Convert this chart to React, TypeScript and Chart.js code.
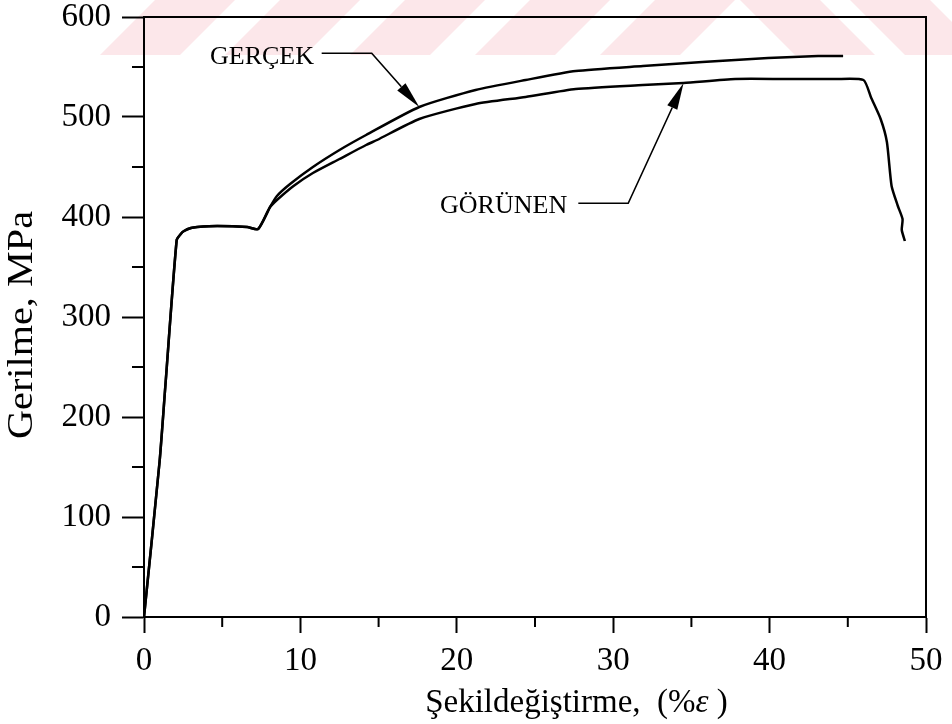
import React, { useEffect, useRef } from "react";
import { Chart, registerables } from "chart.js";

Chart.register(...registerables);

// ---------------- data (strain %, stress MPa) ----------------
const gercekStrain = [0, 1.0, 1.37, 2.09, 2.35, 2.56, 3.0, 3.4, 4.68, 6.6, 7.3, 8.06, 8.5, 9.34, 10.8, 12.5, 14.2, 17.6, 21.2, 24.4, 27.6, 31.9, 35.7, 39.9, 43.1, 44.7];
const gercekStress = [0, 156, 232, 377, 383, 386, 389, 390, 391, 390, 388, 410, 421, 433, 450, 467, 482, 510, 527, 537, 546, 551, 555, 559, 561, 561];

const gorunenStrain = [0, 1.0, 1.37, 2.09, 2.35, 2.56, 3.0, 3.4, 4.68, 6.6, 7.3, 8.06, 8.5, 9.56, 10.8, 12.5, 14.2, 14.9, 17.6, 21.2, 24.4, 27.6, 31.9, 34.5, 37.8, 41.0, 44.2, 46.0, 46.5, 47.1, 47.5, 47.8, 48.2, 48.5, 48.45, 48.65];
const gorunenStress = [0, 156, 232, 377, 383, 386, 389, 390, 391, 390, 388, 410, 417, 431, 444, 458, 472, 477, 498, 513, 520, 528, 532, 534, 538, 538, 538, 537, 519, 498, 475, 431, 411, 398, 387, 376];

const seriesNames = ["GERÇEK", "GÖRÜNEN"];

const xMajorTicks = [0, 10, 20, 30, 40, 50];
const xMinorTicks = [5, 15, 25, 35, 45];
const yMajorTicks = [0, 100, 200, 300, 400, 500, 600];
const yMinorTicks = [50, 150, 250, 350, 450, 550];

const xTitle = ["Şekildeğiştirme,  (%", "ε", " )"];
const yTitle = "Gerilme, MPa";

// annotation anchors in data units
const callouts = [
  { text: seriesNames[0], textAt: { x: 4.22, y: 553 }, from: { x: 11.36, y: 563.7 }, elbow: { x: 14.56, y: 563.7 }, tip: { x: 17.6, y: 510 } },
  { text: seriesNames[1], textAt: { x: 18.93, y: 403.7 }, from: { x: 27.77, y: 413.7 }, elbow: { x: 30.96, y: 413.7 }, tip: { x: 34.5, y: 534 } },
];

const SERIF = '"Liberation Serif", "Times New Roman", Times, serif';

const toPoints = (xs: number[], ys: number[]) => xs.map((x, i) => ({ x, y: ys[i] }));

const watermarkPlugin = {
  id: "scanWatermark",
  beforeDraw(chart: any) {
    const { ctx, width } = chart;
    ctx.save();
    ctx.fillStyle = "#ffffff";
    ctx.fillRect(0, 0, width, chart.height);
    ctx.fillStyle = "#fce7ea";
    const h = 55;
    [100, 225, 350, 475, 600].forEach((bx) => {
      ctx.beginPath();
      ctx.moveTo(bx, h);
      ctx.lineTo(bx + 80, h);
      ctx.lineTo(bx + 135, 0);
      ctx.lineTo(bx + 55, 0);
      ctx.closePath();
      ctx.fill();
    });
    [740, 850].forEach((bx) => {
      ctx.beginPath();
      ctx.moveTo(bx, 0);
      ctx.lineTo(bx + 80, 0);
      ctx.lineTo(bx + 135, h);
      ctx.lineTo(bx + 55, h);
      ctx.closePath();
      ctx.fill();
    });
    ctx.restore();
  },
};

const framePlugin = {
  id: "frameAndTitles",
  afterDraw(chart: any) {
    const { ctx, chartArea: a } = chart;
    const xs = chart.scales.x;
    const ys = chart.scales.y;
    ctx.save();
    ctx.strokeStyle = "#000";
    ctx.lineWidth = 2;
    ctx.beginPath();
    xMinorTicks.forEach((v) => {
      const px = xs.getPixelForValue(v);
      ctx.moveTo(px, a.bottom);
      ctx.lineTo(px, a.bottom + 10);
    });
    yMinorTicks.forEach((v) => {
      const py = ys.getPixelForValue(v);
      ctx.moveTo(a.left, py);
      ctx.lineTo(a.left - 12, py);
    });
    ctx.moveTo(a.left - 1, a.top);
    ctx.lineTo(a.right, a.top);
    ctx.lineTo(a.right, a.bottom);
    ctx.stroke();

    ctx.fillStyle = "#000";

    // x-axis title (with italic epsilon)
    ctx.textBaseline = "alphabetic";
    ctx.textAlign = "left";
    const normal = `33px ${SERIF}`;
    const italic = `italic 33px ${SERIF}`;
    const fonts = [normal, italic, normal];
    const widths = xTitle.map((t, i) => {
      ctx.font = fonts[i];
      return ctx.measureText(t).width;
    });
    const total = widths.reduce((s, w) => s + w, 0);
    let cx = a.left + (a.right - a.left) * 0.553 - total / 2;
    const baseY = chart.height - 12;
    xTitle.forEach((t, i) => {
      ctx.font = fonts[i];
      ctx.fillText(t, cx, baseY);
      cx += widths[i];
    });

    // y-axis title (rotated, slightly stretched as in the scan)
    ctx.save();
    ctx.translate(a.left - 121, (a.top + a.bottom) / 2 + 8);
    ctx.rotate(-Math.PI / 2);
    ctx.scale(1.15, 1);
    ctx.font = `35px ${SERIF}`;
    ctx.textAlign = "center";
    ctx.textBaseline = "middle";
    ctx.fillText(yTitle, 0, 0);
    ctx.restore();

    ctx.restore();
  },
};

const calloutPlugin = {
  id: "callouts",
  afterDatasetsDraw(chart: any) {
    const { ctx } = chart;
    const xs = chart.scales.x;
    const ys = chart.scales.y;
    const P = (p: { x: number; y: number }) => ({ x: xs.getPixelForValue(p.x), y: ys.getPixelForValue(p.y) });
    ctx.save();
    callouts.forEach((c) => {
      const t = P(c.textAt);
      ctx.font = `26px ${SERIF}`;
      ctx.fillStyle = "#000";
      ctx.textAlign = "left";
      ctx.textBaseline = "alphabetic";
      ctx.fillText(c.text, t.x, t.y);

      const f = P(c.from);
      const e = P(c.elbow);
      const tip = P(c.tip);
      const dx = tip.x - e.x;
      const dy = tip.y - e.y;
      const len = Math.hypot(dx, dy);
      const ux = dx / len;
      const uy = dy / len;
      const headLen = 27;
      const halfW = 5.5;
      const bx = tip.x - ux * headLen;
      const by = tip.y - uy * headLen;

      ctx.strokeStyle = "#000";
      ctx.lineWidth = 1.6;
      ctx.beginPath();
      ctx.moveTo(f.x, f.y);
      ctx.lineTo(e.x, e.y);
      ctx.lineTo(bx, by);
      ctx.stroke();

      ctx.beginPath();
      ctx.moveTo(tip.x, tip.y);
      ctx.lineTo(bx - uy * halfW, by + ux * halfW);
      ctx.lineTo(bx + uy * halfW, by - ux * halfW);
      ctx.closePath();
      ctx.fill();
    });
    ctx.restore();
  },
};

export default function App() {
  const canvasRef = useRef<HTMLCanvasElement | null>(null);

  useEffect(() => {
    if (!canvasRef.current) return;
    const chart = new Chart(canvasRef.current, {
      type: "line",
      data: {
        datasets: [
          {
            label: seriesNames[0],
            data: toPoints(gercekStrain, gercekStress),
            borderColor: "#000",
            borderWidth: 2.5,
            pointRadius: 0,
            tension: 0.2,
            fill: false,
          },
          {
            label: seriesNames[1],
            data: toPoints(gorunenStrain, gorunenStress),
            borderColor: "#000",
            borderWidth: 2.5,
            pointRadius: 0,
            tension: 0.2,
            fill: false,
          },
        ],
      },
      options: {
        animation: false,
        responsive: false,
        devicePixelRatio: 1,
        layout: { padding: { top: 17, right: 26, left: 0, bottom: 0 } },
        plugins: {
          legend: { display: false },
          tooltip: { enabled: false },
        },
        scales: {
          x: {
            type: "linear",
            min: 0,
            max: 50,
            afterBuildTicks: (s: any) => {
              s.ticks = xMajorTicks.map((v) => ({ value: v }));
            },
            afterFit: (s: any) => {
              s.height = 107;
              s.paddingLeft = 0;
              s.paddingRight = 0;
            },
            ticks: {
              color: "#000",
              font: { family: SERIF, size: 33, lineHeight: 1 },
              padding: 12,
              maxRotation: 0,
            },
            grid: {
              display: true,
              drawOnChartArea: false,
              drawTicks: true,
              tickLength: 16,
              tickColor: "#000",
              tickWidth: 2,
            },
            border: { display: true, color: "#000", width: 2 },
          },
          y: {
            type: "linear",
            min: 0,
            max: 600,
            afterBuildTicks: (s: any) => {
              s.ticks = yMajorTicks.map((v) => ({ value: v }));
            },
            afterFit: (s: any) => {
              s.width = 144;
              s.paddingTop = 0;
              s.paddingBottom = 0;
            },
            ticks: {
              color: "#000",
              font: { family: SERIF, size: 33, lineHeight: 1 },
              padding: 11,
            },
            grid: {
              display: true,
              drawOnChartArea: false,
              drawTicks: true,
              tickLength: 22,
              tickColor: "#000",
              tickWidth: 2,
            },
            border: { display: true, color: "#000", width: 2 },
          },
        },
      },
      plugins: [watermarkPlugin, framePlugin, calloutPlugin],
    });
    return () => chart.destroy();
  }, []);

  return (
    <div style={{ position: "fixed", left: 0, top: 0, width: 952, height: 724, background: "#fff" }}>
      <canvas ref={canvasRef} width={952} height={724} style={{ display: "block" }} />
    </div>
  );
}
